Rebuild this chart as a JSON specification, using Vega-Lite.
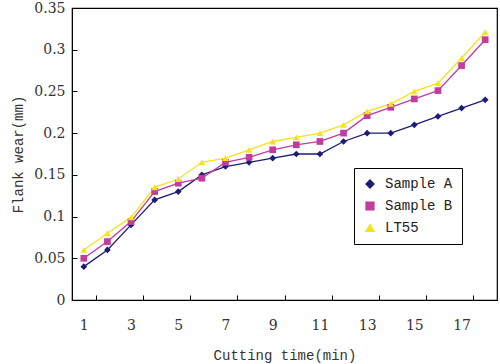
{
  "$schema": "https://vega.github.io/schema/vega-lite/v6.json",
  "width": 425,
  "height": 292,
  "autosize": "none",
  "padding": {"left": 72, "top": 8, "right": 3, "bottom": 64},
  "background": "white",
  "config": {
    "view": {"stroke": "black", "strokeWidth": 1.2},
    "font": "Liberation Mono",
    "axis": {"labelFont": "DejaVu Serif", "titleFont": "Liberation Mono", "labelFontSize": 14, "titleFontSize": 14, "labelColor": "#333", "titleColor": "#333", "titleFontWeight": "normal", "domainColor": "black", "tickColor": "black", "grid": false},
    "legend": {"labelFont": "Liberation Mono", "labelFontSize": 14, "labelColor": "#222"}
  },
  "data": {"values": [
    {"t": 1, "s": "Sample A", "w": 0.04}, {"t": 2, "s": "Sample A", "w": 0.06}, {"t": 3, "s": "Sample A", "w": 0.09}, {"t": 4, "s": "Sample A", "w": 0.12}, {"t": 5, "s": "Sample A", "w": 0.13}, {"t": 6, "s": "Sample A", "w": 0.15}, {"t": 7, "s": "Sample A", "w": 0.16}, {"t": 8, "s": "Sample A", "w": 0.165}, {"t": 9, "s": "Sample A", "w": 0.17}, {"t": 10, "s": "Sample A", "w": 0.175}, {"t": 11, "s": "Sample A", "w": 0.175}, {"t": 12, "s": "Sample A", "w": 0.19}, {"t": 13, "s": "Sample A", "w": 0.2}, {"t": 14, "s": "Sample A", "w": 0.2}, {"t": 15, "s": "Sample A", "w": 0.21}, {"t": 16, "s": "Sample A", "w": 0.22}, {"t": 17, "s": "Sample A", "w": 0.23}, {"t": 18, "s": "Sample A", "w": 0.24},
    {"t": 1, "s": "Sample B", "w": 0.05}, {"t": 2, "s": "Sample B", "w": 0.07}, {"t": 3, "s": "Sample B", "w": 0.094}, {"t": 4, "s": "Sample B", "w": 0.13}, {"t": 5, "s": "Sample B", "w": 0.14}, {"t": 6, "s": "Sample B", "w": 0.146}, {"t": 7, "s": "Sample B", "w": 0.165}, {"t": 8, "s": "Sample B", "w": 0.171}, {"t": 9, "s": "Sample B", "w": 0.18}, {"t": 10, "s": "Sample B", "w": 0.186}, {"t": 11, "s": "Sample B", "w": 0.19}, {"t": 12, "s": "Sample B", "w": 0.2}, {"t": 13, "s": "Sample B", "w": 0.221}, {"t": 14, "s": "Sample B", "w": 0.231}, {"t": 15, "s": "Sample B", "w": 0.241}, {"t": 16, "s": "Sample B", "w": 0.251}, {"t": 17, "s": "Sample B", "w": 0.281}, {"t": 18, "s": "Sample B", "w": 0.312},
    {"t": 1, "s": "LT55", "w": 0.06}, {"t": 2, "s": "LT55", "w": 0.08}, {"t": 3, "s": "LT55", "w": 0.099}, {"t": 4, "s": "LT55", "w": 0.135}, {"t": 5, "s": "LT55", "w": 0.145}, {"t": 6, "s": "LT55", "w": 0.165}, {"t": 7, "s": "LT55", "w": 0.17}, {"t": 8, "s": "LT55", "w": 0.18}, {"t": 9, "s": "LT55", "w": 0.19}, {"t": 10, "s": "LT55", "w": 0.195}, {"t": 11, "s": "LT55", "w": 0.2}, {"t": 12, "s": "LT55", "w": 0.21}, {"t": 13, "s": "LT55", "w": 0.226}, {"t": 14, "s": "LT55", "w": 0.235}, {"t": 15, "s": "LT55", "w": 0.25}, {"t": 16, "s": "LT55", "w": 0.26}, {"t": 17, "s": "LT55", "w": 0.29}, {"t": 18, "s": "LT55", "w": 0.321}
  ]},
  "encoding": {
    "x": {"field": "t", "type": "ordinal", "bandPosition": 0.5,
      "scale": {"type": "band", "paddingInner": 0, "paddingOuter": 0},
      "axis": {"title": "Cutting time(min)", "values": [1, 3, 5, 7, 9, 11, 13, 15, 17], "labelAngle": 0, "tickBand": "extent", "tickSize": -5, "labelPadding": 23, "titlePadding": 16}},
    "y": {"field": "w", "type": "quantitative",
      "scale": {"domain": [0, 0.35], "nice": false},
      "axis": {"title": "Flank wear(mm)", "values": [0, 0.05, 0.1, 0.15, 0.2, 0.25, 0.3, 0.35], "format": ".2~f", "tickSize": -5, "labelPadding": 12, "titlePadding": 8}},
    "color": {"field": "s", "type": "nominal", "sort": ["Sample A", "Sample B", "LT55"],
      "scale": {"domain": ["Sample A", "Sample B", "LT55"], "range": ["#1c1c78", "#c23c9e", "#f5e31a"]},
      "legend": {"title": null, "orient": "none", "legendX": 282, "legendY": 160, "strokeColor": "black", "fillColor": "white", "padding": 9, "rowPadding": 8, "symbolStrokeWidth": 1.5, "symbolSize": 60, "labelOffset": 8}}
  },
  "layer": [
    {"mark": {"type": "line", "strokeWidth": 1.3}},
    {"mark": {"type": "point", "filled": true, "size": 45, "opacity": 1},
      "encoding": {"shape": {"field": "s", "type": "nominal", "sort": ["Sample A", "Sample B", "LT55"],
        "scale": {"domain": ["Sample A", "Sample B", "LT55"], "range": ["diamond", "square", "triangle-up"]},
        "legend": {"title": null}}}}
  ]
}
